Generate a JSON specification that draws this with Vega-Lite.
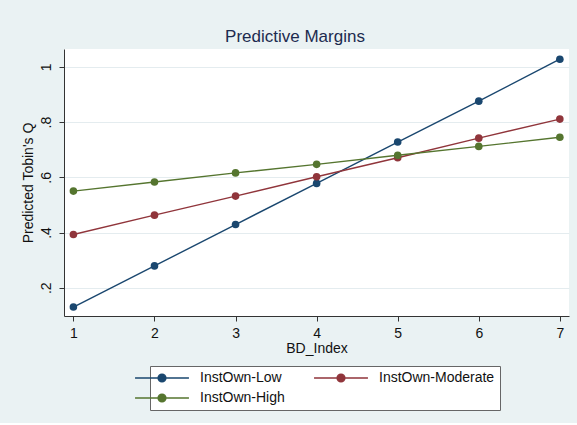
{
  "$schema": "https://vega.github.io/schema/vega-lite/v6.json",
  "width": 505,
  "height": 267,
  "padding": {"left": 21, "top": 28, "right": 9, "bottom": 12},
  "background": "#EAF2F3",
  "title": {"text": "Predictive Margins", "fontSize": 17, "font": "Liberation Sans", "fontWeight": "normal", "color": "#1C2B4F", "anchor": "middle", "frame": "bounds", "offset": 3},
  "config": {"view": {"fill": "white", "stroke": null}, "font": "Liberation Sans"},
  "data": {"values": [
    {"x": 1, "y": 0.130, "group": "InstOwn-Low"},
    {"x": 2, "y": 0.279, "group": "InstOwn-Low"},
    {"x": 3, "y": 0.429, "group": "InstOwn-Low"},
    {"x": 4, "y": 0.578, "group": "InstOwn-Low"},
    {"x": 5, "y": 0.728, "group": "InstOwn-Low"},
    {"x": 6, "y": 0.876, "group": "InstOwn-Low"},
    {"x": 7, "y": 1.028, "group": "InstOwn-Low"},
    {"x": 1, "y": 0.393, "group": "InstOwn-Moderate"},
    {"x": 2, "y": 0.463, "group": "InstOwn-Moderate"},
    {"x": 3, "y": 0.532, "group": "InstOwn-Moderate"},
    {"x": 4, "y": 0.602, "group": "InstOwn-Moderate"},
    {"x": 5, "y": 0.671, "group": "InstOwn-Moderate"},
    {"x": 6, "y": 0.742, "group": "InstOwn-Moderate"},
    {"x": 7, "y": 0.811, "group": "InstOwn-Moderate"},
    {"x": 1, "y": 0.550, "group": "InstOwn-High"},
    {"x": 2, "y": 0.583, "group": "InstOwn-High"},
    {"x": 3, "y": 0.616, "group": "InstOwn-High"},
    {"x": 4, "y": 0.647, "group": "InstOwn-High"},
    {"x": 5, "y": 0.680, "group": "InstOwn-High"},
    {"x": 6, "y": 0.712, "group": "InstOwn-High"},
    {"x": 7, "y": 0.745, "group": "InstOwn-High"}
  ]},
  "encoding": {
    "x": {"field": "x", "type": "quantitative",
      "scale": {"domain": [0.884, 7.113], "nice": false, "zero": false},
      "axis": {"values": [1, 2, 3, 4, 5, 6, 7], "title": "BD_Index", "grid": false,
        "tickSize": 5, "tickColor": "#333", "domainColor": "#333", "labelFontSize": 14, "labelColor": "#111",
        "labelPadding": 5, "titleFontSize": 14, "titleFontWeight": "normal", "titleColor": "#111", "titlePadding": 1}},
    "y": {"field": "y", "type": "quantitative",
      "scale": {"domain": [0.0975, 1.065], "nice": false, "zero": false},
      "axis": {"values": [0.2, 0.4, 0.6, 0.8, 1], "title": "Predicted Tobin's Q",
        "labelExpr": "datum.value >= 1 ? '1' : replace(format(datum.value, '.1f'), '0.', '.')",
        "labelAngle": -90, "grid": true, "gridColor": "#E4ECEF", "gridWidth": 1.2,
        "tickSize": 5, "tickColor": "#333", "domainColor": "#333", "labelFontSize": 14, "labelColor": "#111",
        "labelPadding": 6, "titleFontSize": 14, "titleFontWeight": "normal", "titleColor": "#111", "titlePadding": 4}},
    "color": {"field": "group", "type": "nominal",
      "scale": {"domain": ["InstOwn-Low", "InstOwn-Moderate", "InstOwn-High"], "range": ["#1A476F", "#90353B", "#55752F"]},
      "legend": {"title": null, "orient": "none", "legendX": 86, "legendY": 317, "columns": 2, "direction": "horizontal",
        "columnPadding": 26, "rowPadding": 6,
        "symbolType": "M-7.7,0H7.7M-1.1,0A1.1,1.1 0 1,1 1.1,0A1.1,1.1 0 1,1 -1.1,0Z",
        "symbolSize": 49, "symbolStrokeWidth": 1.5, "labelFontSize": 14, "labelColor": "#111", "labelOffset": 31,
        "padding": 5, "strokeColor": "#666", "fillColor": "white",
        "encode": {"symbols": {"update": {"fill": {"scale": "color", "field": "value"}, "stroke": {"scale": "color", "field": "value"}, "opacity": {"value": 1}}}}}}
  },
  "layer": [
    {"mark": {"type": "line", "strokeWidth": 1.4}},
    {"mark": {"type": "circle", "size": 58, "opacity": 1}}
  ]
}
